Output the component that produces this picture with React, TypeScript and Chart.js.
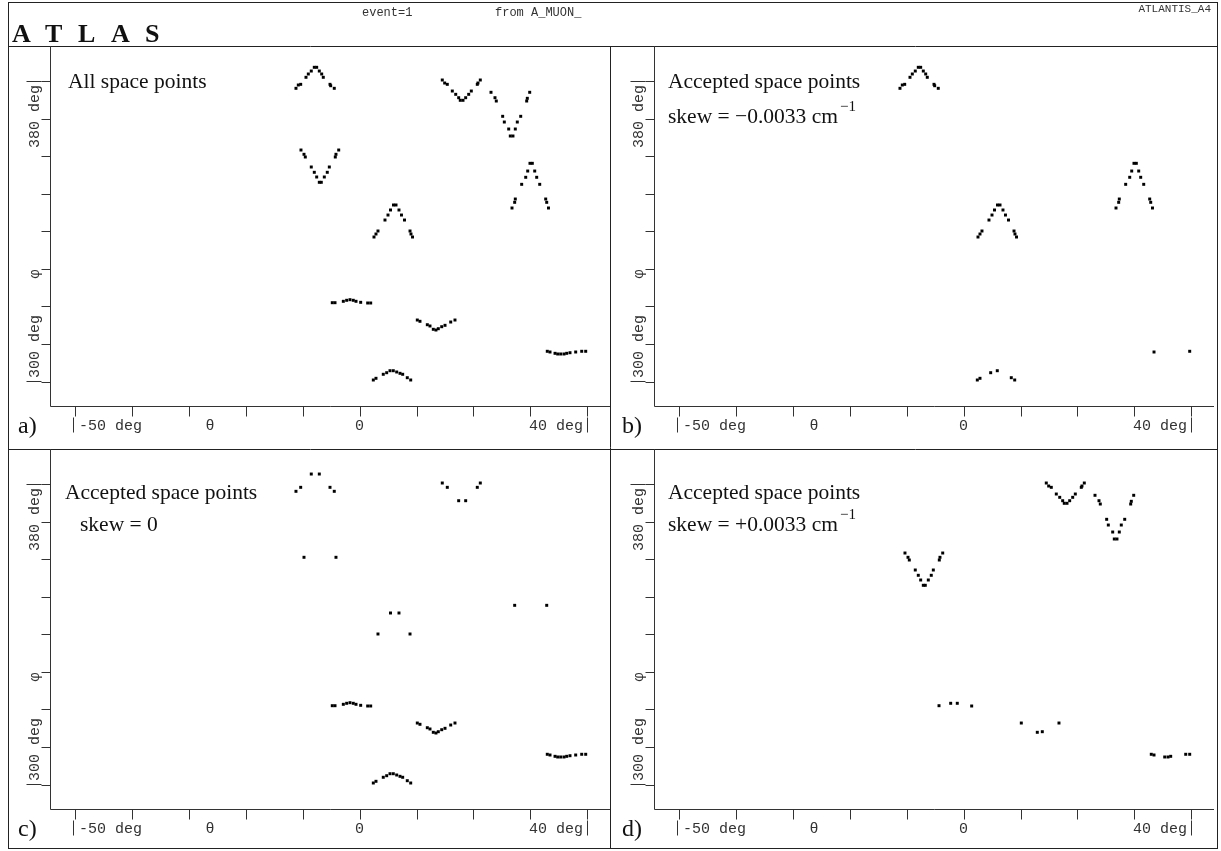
import React, { useEffect, useRef } from "react";
import { Chart, registerables } from "chart.js";

Chart.register(...registerables);

// ---------------- axis ranges & ticks ----------------
const THETA_MIN = -54.4;
const THETA_MAX = 44.0;
const PHI_MIN = 293.5;
const PHI_MAX = 389.3;
const thetaTicks = [-50, -40, -30, -20, -10, 0, 10, 20, 30, 40];
const phiTicks = [300, 310, 320, 330, 340, 350, 360, 370, 380];
const thetaTitleAt = -26.3;
const phiTitleAt = 328.6;

// ---------------- space points (theta deg, phi deg) per track segment ----------------
const seg1Theta = [-11.18, -10.77, -10.35, -9.42, -9.01, -8.49, -7.96, -7.54, -7.08, -6.66, -6.38, -5.2, -5.08, -4.45];
const seg1Phi = [378.04, 378.92, 379.1, 380.97, 381.85, 382.64, 383.63, 383.63, 382.64, 381.85, 380.97, 379.1, 378.73, 378.04];

const seg2Theta = [14.53, 14.95, 15.41, 16.29, 16.89, 17.41, 17.69, 18.17, 18.64, 19.17, 19.63, 20.68, 20.8, 21.21];
const seg2Phi = [380.25, 379.45, 379.1, 377.32, 376.44, 375.54, 374.85, 374.85, 375.54, 376.44, 377.32, 379.1, 379.45, 380.25];

const seg3Theta = [23.09, 23.79, 24.02, 25.14, 25.43, 26.2, 26.48, 26.95, 27.36, 27.71, 28.31, 29.36, 29.47, 29.89];
const seg3Phi = [376.98, 375.54, 374.66, 370.59, 369.07, 367.21, 365.35, 365.35, 367.21, 369.07, 370.59, 374.66, 375.38, 376.98];

const seg4Theta = [-10.3, -9.77, -9.54, -8.49, -7.96, -7.54, -7.08, -6.73, -6.2, -5.68, -5.32, -4.27, -4.15, -3.67];
const seg4Phi = [361.62, 360.48, 359.76, 357.1, 355.69, 354.44, 353.03, 353.03, 354.44, 355.69, 357.1, 359.76, 360.48, 361.62];

const seg5Theta = [26.78, 27.25, 27.36, 28.48, 29.19, 29.54, 29.94, 30.35, 30.77, 31.12, 31.65, 32.7, 32.88, 33.19];
const seg5Phi = [346.19, 347.7, 348.58, 352.49, 354.36, 356.03, 358.08, 358.08, 356.03, 354.36, 352.49, 348.58, 347.7, 346.19];

const seg6Theta = [2.53, 2.88, 3.23, 4.46, 4.99, 5.43, 5.96, 6.4, 6.92, 7.36, 7.89, 8.86, 9.03, 9.3];
const seg6Phi = [338.47, 339.27, 340.07, 342.99, 344.32, 345.66, 346.99, 346.99, 345.66, 344.32, 342.99, 340.07, 339.27, 338.47];

const seg7Theta = [-4.8, -4.32, -2.86, -2.27, -1.69, -1.11, -0.63, 0.19, 1.42, 1.95];
const seg7Phi = [320.99, 320.99, 321.36, 321.63, 321.79, 321.63, 321.36, 321.09, 320.91, 320.91];

const seg8Theta = [10.14, 10.61, 11.9, 12.37, 12.95, 13.42, 13.83, 14.43, 15.01, 16.01, 16.76];
const seg8Phi = [316.38, 316.04, 315.13, 314.79, 313.91, 313.72, 314.07, 314.6, 314.97, 315.85, 316.38];

const seg9Theta = [32.98, 33.46, 34.34, 34.81, 35.34, 35.92, 36.39, 36.97, 37.97, 39.03, 39.73];
const seg9Phi = [308.06, 307.87, 307.52, 307.34, 307.34, 307.34, 307.52, 307.68, 307.87, 308.06, 308.06];

const seg10Theta = [2.41, 2.88, 4.16, 4.76, 5.34, 5.92, 6.52, 7.1, 7.57, 8.38, 8.98];
const seg10Phi = [300.42, 300.87, 301.94, 302.36, 302.89, 302.89, 302.55, 302.2, 301.94, 301.03, 300.42];

const segThetas = [seg1Theta, seg2Theta, seg3Theta, seg4Theta, seg5Theta, seg6Theta, seg7Theta, seg8Theta, seg9Theta, seg10Theta];
const segPhis = [seg1Phi, seg2Phi, seg3Phi, seg4Phi, seg5Phi, seg6Phi, seg7Phi, seg8Phi, seg9Phi, seg10Phi];

// ---------------- which points each panel shows ----------------
const ALL = "all";
const selA = [ALL, ALL, ALL, ALL, ALL, ALL, ALL, ALL, ALL, ALL];
const selB = [ALL, [], [], [], ALL, ALL, [], [], [1, 10], [0, 1, 3, 5, 9, 10]];
const selC = [[0, 2, 5, 8, 11, 13], [0, 2, 5, 8, 11, 13], [], [1, 12], [1, 12], [2, 5, 8, 11], ALL, ALL, ALL, ALL];
const selD = [[], ALL, ALL, ALL, [], [], [1, 3, 5, 8], [0, 4, 6, 10], [0, 1, 4, 5, 6, 9, 10], []];

// ---------------- texts ----------------
const headerTitle = ["A", "T", "L", "A", "S"];
const headerEvent = "event=1";
const headerSource = "from A_MUON_";
const headerId = "ATLANTIS_A4";
const thetaLabelLow = "-50 deg";
const thetaLabelZero = "0";
const thetaLabelHigh = "40 deg";
const phiLabelLow = "300 deg";
const phiLabelHigh = "380 deg";

const SERIF = '"Liberation Serif", "Times New Roman", Times, serif';
const MONO = '"Liberation Mono", "Courier New", Courier, monospace';
const FRAME = "#222";
const AXIS = "#333";
const TEXT = "#111";
const W = 1221;
const H = 851;

function pointsFor(sel: any[]) {
  const pts: { x: number; y: number }[] = [];
  sel.forEach((s, i) => {
    const th = segThetas[i];
    const ph = segPhis[i];
    const idx = s === ALL ? th.map((_: number, k: number) => k) : s;
    idx.forEach((k: number) => pts.push({ x: th[k], y: ph[k] }));
  });
  return pts;
}

type Line = { text: string; sup?: string; x: number; y: number };
type PanelCfg = {
  key: string;
  plot: { l: number; t: number; r: number; b: number };
  letter: string;
  letterX: number;
  lines: Line[];
  sel: any[];
};

const panels: PanelCfg[] = [
  {
    key: "a",
    plot: { l: 50, t: 46, r: 610, b: 406 },
    letter: "a)",
    letterX: 18,
    lines: [{ text: "All space points", x: 68, y: 88 }],
    sel: selA,
  },
  {
    key: "b",
    plot: { l: 654, t: 46, r: 1214, b: 406 },
    letter: "b)",
    letterX: 622,
    lines: [
      { text: "Accepted space points", x: 668, y: 88 },
      { text: "skew = \u22120.0033 cm", sup: "\u22121", x: 668, y: 123 },
    ],
    sel: selB,
  },
  {
    key: "c",
    plot: { l: 50, t: 449, r: 610, b: 809 },
    letter: "c)",
    letterX: 18,
    lines: [
      { text: "Accepted space points", x: 65, y: 499 },
      { text: "skew = 0", x: 80, y: 531 },
    ],
    sel: selC,
  },
  {
    key: "d",
    plot: { l: 654, t: 449, r: 1214, b: 809 },
    letter: "d)",
    letterX: 622,
    lines: [
      { text: "Accepted space points", x: 668, y: 499 },
      { text: "skew = +0.0033 cm", sup: "\u22121", x: 668, y: 531 },
    ],
    sel: selD,
  },
];

function makeDecor(cfg: PanelCfg) {
  return {
    id: "atlasDecor",
    afterDraw(chart: any) {
      const { ctx, chartArea: ca } = chart;
      const xs = chart.scales.x;
      const ys = chart.scales.y;
      const L = Math.round(ca.left) + 0.5;
      const B = Math.round(ca.bottom) + 0.5;
      ctx.save();
      ctx.lineWidth = 1;
      ctx.strokeStyle = AXIS;
      ctx.beginPath();
      ctx.moveTo(L, ca.top);
      ctx.lineTo(L, B);
      ctx.lineTo(ca.right, B);
      ctx.stroke();

      // ticks
      ctx.beginPath();
      thetaTicks.forEach((t) => {
        const x = Math.round(xs.getPixelForValue(t)) + 0.5;
        ctx.moveTo(x, B);
        ctx.lineTo(x, B + 10);
      });
      phiTicks.forEach((p) => {
        const y = Math.round(ys.getPixelForValue(p)) + 0.5;
        ctx.moveTo(L - 9, y);
        ctx.lineTo(L, y);
      });
      ctx.stroke();

      // theta labels
      ctx.fillStyle = AXIS;
      ctx.font = `15px ${MONO}`;
      ctx.textBaseline = "alphabetic";
      const xLow = Math.round(xs.getPixelForValue(thetaTicks[0]));
      const xHigh = Math.round(xs.getPixelForValue(thetaTicks[thetaTicks.length - 1]));
      const base = B + 23;
      ctx.beginPath();
      ctx.moveTo(xLow - 1.5, B + 11);
      ctx.lineTo(xLow - 1.5, B + 26);
      ctx.moveTo(xHigh + 0.5, B + 11);
      ctx.lineTo(xHigh + 0.5, B + 26);
      ctx.stroke();
      ctx.textAlign = "left";
      ctx.fillText(thetaLabelLow, xLow + 4, base);
      ctx.textAlign = "right";
      ctx.fillText(thetaLabelHigh, xHigh - 4, base);
      ctx.textAlign = "center";
      ctx.fillText(thetaLabelZero, xs.getPixelForValue(0), base);
      ctx.fillText("\u03b8", xs.getPixelForValue(thetaTitleAt), base);

      // phi labels (rotated)
      const yLow = Math.round(ys.getPixelForValue(phiTicks[0]));
      const yHigh = Math.round(ys.getPixelForValue(phiTicks[phiTicks.length - 1]));
      ctx.beginPath();
      ctx.moveTo(L - 24, yLow - 0.5);
      ctx.lineTo(L - 9, yLow - 0.5);
      ctx.moveTo(L - 24, yHigh + 0.5);
      ctx.lineTo(L - 9, yHigh + 0.5);
      ctx.stroke();
      const bx = L - 12;
      const rot = (text: string, y: number, align: CanvasTextAlign) => {
        ctx.save();
        ctx.translate(bx, y);
        ctx.rotate(-Math.PI / 2);
        ctx.textAlign = align;
        ctx.fillText(text, 0, 0);
        ctx.restore();
      };
      rot(phiLabelLow, yLow - 4, "left");
      rot(phiLabelHigh, yHigh + 4, "right");
      rot("\u03c6", ys.getPixelForValue(phiTitleAt), "center");

      // panel letter
      ctx.fillStyle = TEXT;
      ctx.font = `24px ${SERIF}`;
      ctx.textAlign = "left";
      ctx.fillText(cfg.letter, cfg.letterX, B + 26);

      // annotations
      cfg.lines.forEach((ln) => {
        ctx.font = `21.5px ${SERIF}`;
        ctx.textAlign = "left";
        ctx.fillText(ln.text, ln.x, ln.y);
        if (ln.sup) {
          const w = ctx.measureText(ln.text).width;
          ctx.font = `15px ${SERIF}`;
          ctx.fillText(ln.sup, ln.x + w + 2, ln.y - 12);
        }
      });
      ctx.restore();
    },
  };
}

function Panel({ cfg }: { cfg: PanelCfg }) {
  const ref = useRef<HTMLCanvasElement | null>(null);
  useEffect(() => {
    if (!ref.current) return;
    const p = cfg.plot;
    const chart = new Chart(ref.current, {
      type: "scatter",
      data: {
        datasets: [
          {
            data: pointsFor(cfg.sel),
            pointStyle: "rect",
            pointRadius: 2.1,
            pointHoverRadius: 2.1,
            backgroundColor: "#000",
            borderWidth: 0,
            clip: false,
          } as any,
        ],
      },
      options: {
        responsive: false,
        animation: false,
        devicePixelRatio: 1,
        events: [],
        layout: { padding: { left: p.l, top: p.t, right: W - p.r, bottom: H - p.b } },
        plugins: { legend: { display: false }, tooltip: { enabled: false }, title: { display: false } },
        scales: {
          x: { type: "linear", min: THETA_MIN, max: THETA_MAX, display: false },
          y: { type: "linear", min: PHI_MIN, max: PHI_MAX, display: false },
        },
      },
      plugins: [makeDecor(cfg)],
    });
    return () => chart.destroy();
  }, [cfg]);
  return (
    <canvas
      ref={ref}
      width={W}
      height={H}
      style={{ position: "absolute", left: 0, top: 0, width: W, height: H }}
    />
  );
}

function Frame() {
  const ref = useRef<HTMLCanvasElement | null>(null);
  useEffect(() => {
    const c = ref.current;
    if (!c) return;
    const ctx = c.getContext("2d");
    if (!ctx) return;
    ctx.clearRect(0, 0, W, H);
    ctx.strokeStyle = FRAME;
    ctx.lineWidth = 1;
    ctx.strokeRect(8.5, 2.5, 1209, 846);
    ctx.beginPath();
    ctx.moveTo(8, 46.5);
    ctx.lineTo(1218, 46.5);
    ctx.moveTo(8, 449.5);
    ctx.lineTo(1218, 449.5);
    ctx.moveTo(610.5, 46);
    ctx.lineTo(610.5, 849);
    ctx.stroke();

    ctx.fillStyle = TEXT;
    ctx.font = `bold 26px ${SERIF}`;
    ctx.textBaseline = "alphabetic";
    const xs = [12, 45, 78, 111, 145];
    headerTitle.forEach((ch, i) => ctx.fillText(ch, xs[i], 42));
    ctx.fillStyle = AXIS;
    ctx.font = `12px ${MONO}`;
    ctx.fillText(headerEvent, 362, 16);
    ctx.fillText(headerSource, 495, 16);
    ctx.textAlign = "right";
    ctx.font = `11px ${MONO}`;
    ctx.fillText(headerId, 1211, 12);
  }, []);
  return <canvas ref={ref} width={W} height={H} style={{ position: "absolute", left: 0, top: 0 }} />;
}

export default function App() {
  return (
    <div style={{ position: "absolute", left: 0, top: 0, width: W, height: H, background: "#fff" }}>
      <Frame />
      {panels.map((p) => (
        <Panel key={p.key} cfg={p} />
      ))}
    </div>
  );
}
